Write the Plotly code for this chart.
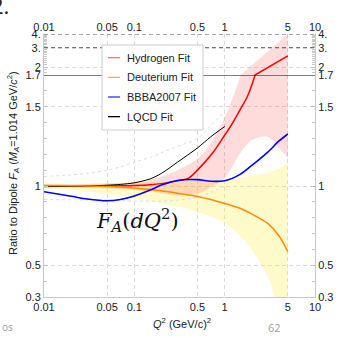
import math
import plotly.graph_objects as go

# ---------------- data ----------------
Q2 = [0.01, 0.02, 0.03, 0.05, 0.07, 0.1, 0.15, 0.2, 0.3, 0.5, 0.7, 1.0, 1.5, 2.0, 3.0, 4.0, 5.0]
deut_fit = [1.003, 1.002, 1.0, 0.997, 0.993, 0.988, 0.978, 0.97, 0.955, 0.934, 0.915, 0.89, 0.858, 0.823, 0.764, 0.685, 0.586]
deut_hi = [1.015, 1.015, 1.016, 1.017, 1.018, 1.02, 1.022, 1.025, 1.03, 1.033, 1.035, 1.038, 1.05, 1.065, 1.085, 1.11, 1.145]
deut_lo = [0.985, 0.975, 0.965, 0.95, 0.94, 0.925, 0.905, 0.89, 0.87, 0.835, 0.81, 0.77, 0.68, 0.60, 0.43, 0.20, -0.10]
hyd_hi = [1.01, 1.01, 1.012, 1.015, 1.02, 1.025, 1.04, 1.06, 1.10, 1.17, 1.27, 1.43, 1.70, 2.10, 2.78, 3.40, 4.05]
hyd_lo = [0.99, 0.99, 0.988, 0.985, 0.98, 0.975, 0.965, 0.955, 0.94, 0.95, 0.99, 1.05, 1.21, 1.29, 1.31, 1.24, 1.177]
bbba_fit = [0.964, 0.935, 0.918, 0.907, 0.915, 0.937, 0.975, 1.006, 1.035, 1.04, 1.03, 1.033, 1.075, 1.13, 1.214, 1.284, 1.328]

Q2_hyd = [0.01, 0.02, 0.03, 0.05, 0.07, 0.1, 0.15, 0.2, 0.3, 0.4, 0.5, 0.75, 1.0, 1.15, 1.5, 1.77, 2.17, 5.0]
hyd_fit = [1.0, 1.0, 1.0, 1.0, 1.001, 1.003, 1.008, 1.015, 1.033, 1.05, 1.10, 1.214, 1.32, 1.372, 1.487, 1.56, 1.70, 2.53]

Q2_lqcd = [0.01, 0.02, 0.03, 0.05, 0.07, 0.1, 0.15, 0.2, 0.3, 0.5, 0.7, 1.0]
lqcd_fit = [0.996, 0.998, 1.0, 1.005, 1.01, 1.02, 1.045, 1.08, 1.15, 1.24, 1.31, 1.375]
lqcd_hi = [1.06, 1.07, 1.08, 1.10, 1.12, 1.15, 1.18, 1.21, 1.25, 1.30, 1.38, 1.47]
lqcd_lo = [0.915, 0.913, 0.912, 0.91, 0.908, 0.905, 0.905, 0.905, 0.91, 0.93, 0.96, 1.0]

x_ticks = [0.01, 0.05, 0.1, 0.5, 1, 5, 10]
x_ticktext = ["0.01", "0.05", "0.1", "0.5", "1", "5", "10"]
y_low_ticks = [0.3, 0.5, 1, 1.5, 1.7]
y_low_text = ["0.3", "0.5", "1", "1.5", "1.7"]
y_up_ticks = [2, 3, 4]
y_up_text = ["2", "3.", "4."]

series_names = ["Hydrogen Fit", "Deuterium Fit", "BBBA2007 Fit", "LQCD Fit"]
legend_colors = ["#ff7070", "#ffaa50", "#3030ff", "#000000"]

# ---------------- figure geometry ----------------
W, H = 344, 338
ML, MR, MT, MB = 44, 29, 34, 41
PW, PH = W - ML - MR, H - MT - MB
SPLIT = 222 / PH  # fraction of plot height for the linear (lower) part

def px_x(px):
    return (px - ML) / PW

def px_y(py):
    return (H - MB - py) / PH

RED = "#ff0000"
ORANGE = "#ff8c00"
BLUE = "#0000ff"
YELLOW_FILL = "rgba(255,240,80,0.30)"
PINK_FILL = "rgba(255,60,60,0.18)"
GRID = "#dadada"
FONT = "Liberation Sans, Arial, sans-serif"

fig = go.Figure()

def band(x, lo, hi, fill, yaxis, shape):
    fig.add_trace(go.Scatter(x=x, y=lo, mode="lines", line=dict(width=0, shape=shape, smoothing=0.8),
                             xaxis="x", yaxis=yaxis, showlegend=False, hoverinfo="skip"))
    fig.add_trace(go.Scatter(x=x, y=hi, mode="lines", line=dict(width=0, shape=shape, smoothing=0.8),
                             fill="tonexty", fillcolor=fill,
                             xaxis="x", yaxis=yaxis, showlegend=False, hoverinfo="skip"))

def line(x, y, color, width, yaxis, shape, dash="solid", name=None):
    fig.add_trace(go.Scatter(x=x, y=y, mode="lines", name=name,
                             line=dict(color=color, width=width, shape=shape, smoothing=0.8, dash=dash),
                             xaxis="x", yaxis=yaxis, showlegend=False, hoverinfo="skip"))

# lower (linear) panel
band(Q2, deut_lo, deut_hi, YELLOW_FILL, "y", "spline")
band(Q2, hyd_lo, hyd_hi, PINK_FILL, "y", "spline")
line(Q2_lqcd, lqcd_hi, "#dcdcdc", 1, "y", "spline", dash="3px,3px")
line(Q2_lqcd, lqcd_lo, "#dcdcdc", 1, "y", "spline", dash="3px,3px")
line(Q2_hyd, hyd_fit, RED, 1.5, "y", "spline", name=series_names[0])
line(Q2_lqcd, lqcd_fit, "#000000", 1.0, "y", "spline", name=series_names[3])
line(Q2, deut_fit, ORANGE, 1.5, "y", "spline", name=series_names[1])
line(Q2, bbba_fit, BLUE, 1.6, "y", "spline", name=series_names[2])

# upper (log) panel: same data, clipped by the axis range
band(Q2, hyd_lo, hyd_hi, PINK_FILL, "y2", "linear")
line(Q2_hyd, hyd_fit, RED, 1.5, "y2", "linear")

# invisible anchors for mirrored axes
for ax in ["y3", "y4"]:
    fig.add_trace(go.Scatter(x=[1], y=[1.0 if ax == "y3" else 2.0], mode="markers",
                             marker=dict(opacity=0), xaxis="x", yaxis=ax,
                             showlegend=False, hoverinfo="skip"))
fig.add_trace(go.Scatter(x=[1], y=[1.0], mode="markers", marker=dict(opacity=0),
                         xaxis="x2", yaxis="y", showlegend=False, hoverinfo="skip"))

tickfont = dict(family=FONT, size=11, color="#222")
up_range = [math.log10(1.7), math.log10(4)]
up_minor = [1.8, 1.9, 2.1, 2.2, 2.3, 2.4, 2.5, 2.6, 2.7, 2.8, 2.9, 3.1, 3.2, 3.3, 3.4, 3.5, 3.6, 3.7, 3.8, 3.9]

fig.update_layout(
    width=W, height=H,
    margin=dict(l=ML, r=MR, t=MT, b=MB, pad=0),
    paper_bgcolor="white", plot_bgcolor="white",
    showlegend=False,
    xaxis=dict(type="log", range=[-2, 1], domain=[0, 1], anchor="y",
               tickvals=x_ticks, ticktext=x_ticktext, tickfont=tickfont,
               showgrid=True, gridcolor=GRID, griddash="4px,3px", gridwidth=1,
               showline=True, linecolor="#c8c8c8", linewidth=1, ticks="", zeroline=False),
    xaxis2=dict(type="log", range=[-2, 1], overlaying="x", side="top", anchor="y2",
                tickvals=x_ticks, ticktext=x_ticktext, tickfont=tickfont,
                showgrid=False, showline=False, ticks="", zeroline=False),
    yaxis=dict(range=[0.3, 1.7], domain=[0, SPLIT], anchor="x",
               tickvals=y_low_ticks, ticktext=y_low_text, tickfont=tickfont,
               showgrid=True, gridcolor=GRID, griddash="4px,3px", gridwidth=1,
               showline=True, linecolor="#c8c8c8", linewidth=1,
               ticks="inside", ticklen=4, tickcolor="#c0c0c0",
               minor=dict(dtick=0.1, ticks="inside", ticklen=3, tickcolor="#c8c8c8", showgrid=False),
               zeroline=False),
    yaxis2=dict(type="log", range=up_range, domain=[SPLIT, 1], anchor="x",
                tickvals=y_up_ticks, ticktext=y_up_text, tickfont=tickfont,
                showgrid=True, gridcolor=GRID, griddash="4px,3px", gridwidth=1,
                showline=True, linecolor="#c8c8c8", linewidth=1,
                ticks="inside", ticklen=4, tickcolor="#c0c0c0",
                minor=dict(tickvals=up_minor, ticks="inside", ticklen=3, tickcolor="#c8c8c8", showgrid=False),
                zeroline=False),
    yaxis3=dict(range=[0.3, 1.7], overlaying="y", side="right", anchor="x",
                tickvals=y_low_ticks, ticktext=y_low_text, tickfont=tickfont,
                showgrid=False, showline=True, linecolor="#c8c8c8", linewidth=1,
                ticks="inside", ticklen=4, tickcolor="#c0c0c0",
                minor=dict(dtick=0.1, ticks="inside", ticklen=3, tickcolor="#c8c8c8"),
                zeroline=False),
    yaxis4=dict(type="log", range=up_range, overlaying="y2", side="right", anchor="x",
                tickvals=y_up_ticks, ticktext=y_up_text, tickfont=tickfont,
                showgrid=False, showline=True, linecolor="#c8c8c8", linewidth=1,
                ticks="inside", ticklen=4, tickcolor="#c0c0c0",
                minor=dict(tickvals=up_minor, ticks="inside", ticklen=3, tickcolor="#c8c8c8"),
                zeroline=False),
)

shapes = []
# dashed reference lines in the upper panel
for yv in [3, 4]:
    shapes.append(dict(type="line", xref="paper", yref="y2", x0=0, x1=1, y0=yv, y1=yv,
                       line=dict(color="#555555", width=1, dash="4px,3px"), layer="above"))
# solid break line at 1.7
shapes.append(dict(type="line", xref="paper", yref="y", x0=0, x1=1, y0=1.7, y1=1.7,
                   line=dict(color="#000000", width=1.2), layer="above"))
# legend box
LX0, LX1, LY0, LY1 = 102, 203, 45, 130
shapes.append(dict(type="rect", xref="paper", yref="paper",
                   x0=px_x(LX0), x1=px_x(LX1), y0=px_y(LY1), y1=px_y(LY0),
                   line=dict(color="#cccccc", width=1), fillcolor="white", layer="above"))
annotations = []
for i, (nm, col) in enumerate(zip(series_names, legend_colors)):
    yy = 57.7 + 19.65 * i
    shapes.append(dict(type="line", xref="paper", yref="paper",
                       x0=px_x(108), x1=px_x(120), y0=px_y(yy), y1=px_y(yy),
                       line=dict(color=col, width=1.3), layer="above"))
    annotations.append(dict(text=nm, xref="paper", yref="paper", x=px_x(125), y=px_y(yy),
                            xanchor="left", yanchor="middle", showarrow=False,
                            font=dict(family=FONT, size=11, color="#222")))

annotations += [
    dict(text="Ratio to Dipole <i>F</i><sub><i>A</i></sub> (<i>M</i><sub><i>A</i></sub>=1.014 GeV/<i>c</i><sup>2</sup>)",
         xref="paper", yref="paper", x=px_x(13), y=px_y(163), textangle=-90,
         xanchor="center", yanchor="middle", showarrow=False,
         font=dict(family=FONT, size=11, color="#222")),
    dict(text="<i>Q</i><sup>2</sup> (GeV/c)<sup>2</sup>", xref="paper", yref="paper",
         x=px_x(182), y=px_y(323), xanchor="center", yanchor="middle", showarrow=False,
         font=dict(family=FONT, size=11, color="#222")),
    dict(text="<i>F</i><sub><i>A</i></sub>(<i>dQ</i><sup>2</sup>)", xref="paper", yref="paper",
         x=px_x(137), y=px_y(220), xanchor="center", yanchor="middle", showarrow=False,
         font=dict(family="DejaVu Serif, Liberation Serif, serif", size=21, color="#111")),
    dict(text="62", xref="paper", yref="paper", x=px_x(274), y=px_y(327),
         xanchor="center", yanchor="middle", showarrow=False,
         font=dict(family="Open Sans, sans-serif", size=11, color="#a0a0a0")),
    dict(text="os", xref="paper", yref="paper", x=px_x(0), y=px_y(327),
         xanchor="left", yanchor="middle", showarrow=False,
         font=dict(family="Open Sans, sans-serif", size=10, color="#a0a0a0")),
    dict(text="2.", xref="paper", yref="paper", x=px_x(11), y=px_y(5),
         xanchor="right", yanchor="middle", showarrow=False,
         font=dict(family="Open Sans, sans-serif", size=22, color="#222")),
]

fig.update_layout(shapes=shapes, annotations=annotations)
fig.write_html("out.html")
